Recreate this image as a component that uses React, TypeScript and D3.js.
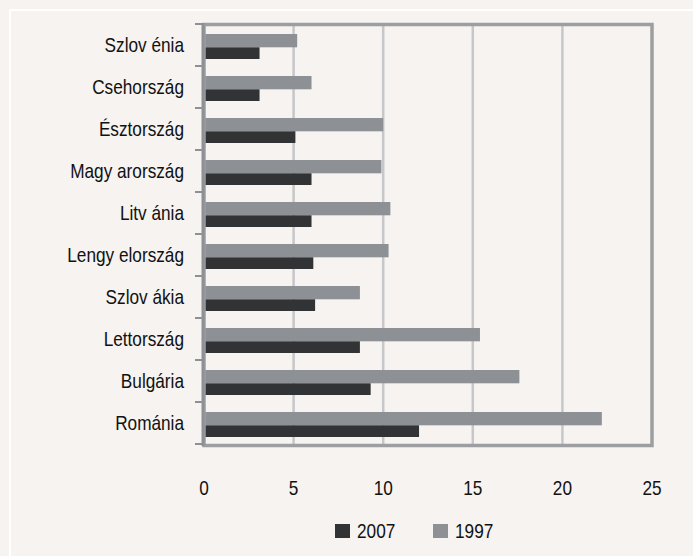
import { useMemo } from "react";
import * as d3 from "d3";

const WIDTH = 693;
const HEIGHT = 556;
const PLOT = { left: 204, right: 652, top: 24, bottom: 444 };
const FONT = "'Liberation Sans', Arial, sans-serif";
// the source uses a narrow face; squeeze a regular one horizontally
const SQUEEZE = 0.82;

const COLOR_2007 = "#323335";
const COLOR_1997 = "#8d9095";

const countries = [
  "Szlov énia",
  "Csehország",
  "Észtország",
  "Magy arország",
  "Litv ánia",
  "Lengy elország",
  "Szlov ákia",
  "Lettország",
  "Bulgária",
  "Románia",
];
const values2007 = [3.1, 3.1, 5.1, 6.0, 6.0, 6.1, 6.2, 8.7, 9.3, 12.0];
const values1997 = [5.2, 6.0, 10.0, 9.9, 10.4, 10.3, 8.7, 15.4, 17.6, 22.2];
const xTicks = [0, 5, 10, 15, 20, 25];
const legendItems = [
  { label: "2007", color: COLOR_2007 },
  { label: "1997", color: COLOR_1997 },
];

const NarrowText = ({
  x,
  y,
  anchor,
  children,
}: {
  x: number;
  y: number;
  anchor: "start" | "middle" | "end";
  children: React.ReactNode;
}) => (
  <text
    transform={`translate(${x},${y}) scale(${SQUEEZE},1)`}
    textAnchor={anchor}
    dominantBaseline="central"
    fontSize={21}
    fill="#111"
  >
    {children}
  </text>
);

export default function App() {
  const xScale = useMemo(
    () => d3.scaleLinear().domain([0, 25]).range([PLOT.left, PLOT.right]),
    []
  );
  const yScale = useMemo(
    () =>
      d3.scaleBand<string>().domain(countries).range([PLOT.top, PLOT.bottom]).padding(0),
    []
  );
  const step = yScale.step();

  // bars: 1997 on top, 2007 below, inside each band
  const bars = countries.map((c, i) => {
    const y0 = yScale(c) as number;
    return (
      <g key={c}>
        <rect
          x={xScale(0) + 1}
          y={y0 + 10}
          width={xScale(values1997[i]) - xScale(0) - 1}
          height={13.3}
          fill={COLOR_1997}
        />
        <rect
          x={xScale(0) + 1}
          y={y0 + 23.3}
          width={xScale(values2007[i]) - xScale(0) - 1}
          height={11.7}
          fill={COLOR_2007}
        />
      </g>
    );
  });

  return (
    <svg
      width={WIDTH}
      height={HEIGHT}
      style={{ position: "absolute", left: 0, top: 0, display: "block" }}
      fontFamily={FONT}
    >
      <rect width={WIDTH} height={HEIGHT} fill="#f6f3f0" />
      <line x1={10} y1={10} x2={WIDTH} y2={10} stroke="#ffffff" strokeWidth={2} />
      <line x1={10} y1={10} x2={10} y2={HEIGHT} stroke="#ffffff" strokeWidth={2} />

      {/* gridlines */}
      {xTicks
        .filter((t) => t > 0 && t < 25)
        .map((t) => (
          <line
            key={t}
            x1={xScale(t)}
            x2={xScale(t)}
            y1={PLOT.top}
            y2={PLOT.bottom}
            stroke="#c6c7ca"
            strokeWidth={2.5}
          />
        ))}

      {bars}

      {/* frame */}
      <rect
        x={PLOT.left}
        y={PLOT.top + 0.5}
        width={PLOT.right - PLOT.left}
        height={PLOT.bottom - PLOT.top + 1}
        fill="none"
        stroke="#9c9ea2"
        strokeWidth={3.5}
      />
      {/* category axis */}
      <line
        x1={PLOT.left - 1}
        x2={PLOT.left - 1}
        y1={PLOT.top - 1}
        y2={PLOT.bottom + 2}
        stroke="#8d9095"
        strokeWidth={3}
      />
      {d3.range(countries.length + 1).map((i) => (
        <line
          key={i}
          x1={PLOT.left - 9}
          x2={PLOT.left - 2}
          y1={PLOT.top + i * step}
          y2={PLOT.top + i * step}
          stroke="#8d9095"
          strokeWidth={2}
        />
      ))}
      {countries.map((c) => (
        <NarrowText key={c} x={184} y={(yScale(c) as number) + step / 2} anchor="end">
          {c}
        </NarrowText>
      ))}

      {/* value axis labels */}
      {xTicks.map((t) => (
        <NarrowText key={t} x={xScale(t)} y={488} anchor="middle">
          {t}
        </NarrowText>
      ))}

      {/* legend */}
      {legendItems.map((d, i) => {
        const lx = 335 + i * 98;
        return (
          <g key={d.label}>
            <rect x={lx} y={524} width={15} height={14} fill={d.color} />
            <NarrowText x={lx + 22} y={531} anchor="start">
              {d.label}
            </NarrowText>
          </g>
        );
      })}
    </svg>
  );
}
